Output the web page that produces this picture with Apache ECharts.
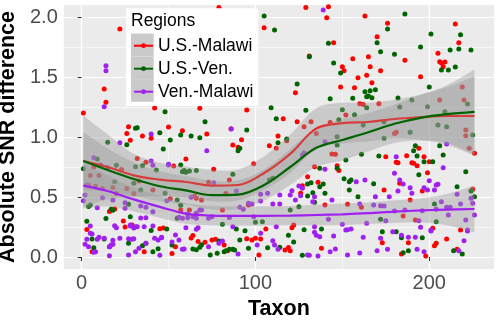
<!DOCTYPE html>
<html>
<head>
<meta charset="utf-8">
<script src="https://cdn.jsdelivr.net/npm/echarts@6/dist/echarts.min.js"></script>
<style>
  html, body { margin: 0; padding: 0; background: #ffffff; }
  #chart { width: 500px; height: 320px; }
</style>
</head>
<body>
<div id="chart"></div>
<script>
// ---------- data ----------
const regions = ['U.S.-Malawi', 'U.S.-Ven.', 'Ven.-Malawi'];
const regionColors = ['#FF0000', '#006400', '#A020F0'];

const taxonTicks = [0, 100, 200];
const taxonMinor = [50, 150];
const snrTicks = [0, 0.5, 1.0, 1.5, 2.0];
const snrMinor = [0.25, 0.75, 1.25, 1.75];

// scatter points [taxon, absolute SNR difference]
const usMalawi = [
  [1,1.20],[3,0.23],[4,0.60],[5,0.68],[6,0.044],[7,0.75],[8,0.59],[10,0.68],[12,0.57],[13,1.40],[14,1.29],
  [16,0.38],[18,0.58],[19,0.40],[20,0.53],[22,1.90],[23,0.73],[24,0.30],[25,0.25],[26,0.57],[26,1.03],[27,1.086],
  [28,0.972],[29,0.267],[30,0.53],[32,0.82],[33,0.633],[35,1.008],[36,0.044],[37,0.79],[40,0.99],[41,0.558],
  [42,1.242],[45,0.236],[47,0.242],[50,1.083],[51,0.486],[52,0.03],[53,0.758],[54,0.086],[57,0.392],[58,1.053],
  [60,0.817],[62,0.392],[63,0.158],[64,0.18],[65,0.508],[66,0.489],[67,0.13],[68,1.239],[69,0.475],[71,0.122],
  [72,1.025],[73,0.622],[75,0.142],[76,0.731],[77,0.147],[79,2.08],[81,0.392],[82,0.10],[83,0.53],[84,0.053],
  [85,0.642],[86,1.069],[87,0.933],[90,0.914],[92,0.978],[95,1.225],[95,0.153],[96,0.433],[98,0.142],[99,0.778],
  [100,0.156],[103,0.15],[102,0.017],[105,1.911],[106,0.233],[108,0.928],[112,0.906],[113,1.008],[116,1.153],
  [117,0.058],[118,0.969],[119,0.08],[120,0.053],[121,0.244],[122,0.267],[123,1.369],[124,1.128],[126,0.531],
  [127,0.594],[128,1.086],[129,2.08],[130,0.669],[131,1.675],[132,1.128],[134,0.753],[135,1.03],[136,0.622],
  [138,0.072],[140,0.433],[141,1.994],[142,2.086],[143,1.12],[144,0.858],[145,1.786],[146,0.856],[147,0.761],
  [148,0.72],[149,1.417],[150,1.586],[151,1.553],[152,1.183],[153,0.44],[156,1.653],[157,1.41],[159,1.494],
  [160,1.278],[161,0.414],[162,1.27],[163,2.008],[164,1.514],[165,1.669],[166,1.586],[167,1.453],[170,1.836],
  [171,1.278],[172,1.553],[173,0.119],[174,0.558],[175,0.836],[176,1.947],[180,1.03],[181,1.039],[181,0.789],
  [182,0.786],[183,0.614],[184,0.025],[185,0.342],[186,1.639],[187,0.844],[188,0.119],[189,0.475],[190,0.786],
  [191,0.781],[192,0.308],[193,0.761],[194,0.906],[195,1.503],[196,0.55],[197,0.836],[198,0.008],[199,0.703],
  [200,0.794],[202,0.24],[203,0.094],[204,0.114],[205,1.697],[206,1.628],[206,1.308],[207,1.617],[208,1.586],
  [209,1.625],[210,0.15],[215,1.942],[216,0.064],[217,1.786],[218,0.225],[219,1.417],[220,1.308],[221,1.058],
  [221,1.011],[223,0.906],[225,0.564],[226,0.864]
];
const usVen = [
  [1,0.736],[3,0.297],[4,0.42],[5,0.433],[6,0.15],[7,0.078],[9,0.817],[13,0.15],[14,0.32],[15,0.956],[16,0.086],
  [17,0.397],[18,0.39],[19,0.628],[20,0.764],[26,0.936],[27,0.114],[27,0.439],[28,0.336],[30,0.614],[31,1.072],
  [31,0.753],[32,1.078],[34,0.558],[35,0.761],[35,0.094],[37,0.114],[40,0.22],[41,0.044],[43,0.725],[44,0.069],
  [45,1.036],[47,0.90],[48,1.211],[48,0.531],[49,0.233],[51,0.975],[52,0.10],[55,0.475],[55,0.322],[57,0.767],
  [57,0.431],[57,1.017],[58,0.711],[59,0.72],[60,0.706],[62,0.717],[63,1.008],[64,0.067],[66,0.061],[66,0.72],
  [68,0.994],[68,0.081],[69,0.103],[71,1.128],[74,0.017],[78,0.031],[79,0.133],[81,0.272],[82,0.044],[83,0.053],
  [85,0.064],[87,0.064],[87,0.689],[88,0.058],[89,0.233],[90,0.886],[91,0.906],[91,0.142],[94,0.219],[95,1.058],
  [96,0.072],[100,0.289],[104,0.294],[105,2.008],[107,0.078],[108,0.642],[109,1.244],[110,0.656],[111,1.892],
  [112,1.153],[113,0.953],[114,0.081],[118,0.983],[119,0.181],[120,0.392],[122,0.125],[124,1.442],[125,0.419],
  [127,0.014],[128,0.228],[129,1.222],[130,0.608],[130,0.508],[131,1.669],[132,0.619],[133,0.536],[134,0.456],
  [137,0.739],[137,0.586],[138,0.234],[139,0.608],[140,0.531],[142,1.781],[143,1.319],[145,1.617],[147,0.933],
  [147,0.739],[147,1.003],[148,1.144],[149,1.533],[150,1.228],[151,0.653],[152,0.808],[154,0.628],[154,0.558],
  [155,0.642],[156,1.322],[157,1.186],[159,0.503],[161,0.856],[162,1.10],[163,1.378],[164,1.336],[164,1.244],
  [165,1.342],[166,1.386],[167,1.328],[168,0.61],[169,1.394],[170,1.786],[171,0.842],[172,0.314],[172,1.711],
  [173,0.211],[174,1.128],[174,0.989],[176,1.90],[180,1.69],[181,0.211],[182,1.325],[183,1.25],[184,0.161],
  [185,0.036],[186,2.025],[188,0.053],[189,1.04],[190,1.308],[191,0.886],[192,0.928],[193,0.842],[194,0.686],
  [195,1.75],[196,0.161],[197,0.794],[199,1.253],[200,1.417],[201,1.858],[202,0.794],[203,0.442],[204,0.294],
  [205,1.10],[206,0.928],[207,1.558],[208,0.85],[209,1.211],[210,1.086],[211,1.558],[212,1.725],[214,0.053],
  [215,1.583],[216,0.586],[217,1.733],[218,1.853],[219,0.025],[221,0.711],[222,1.275],[224,1.725],[224,0.55],
  [225,1.017],[226,0.503]
];
const venMalawi = [
  [1,0.469],[2,0.106],[2,0.517],[3,0.60],[3,0.147],[4,0.086],[5,0.197],[5,0.258],[6,0.192],[7,0.828],[7,0.04],
  [8,0.044],[9,0.147],[9,0.411],[10,0.164],[11,0.767],[12,0.494],[13,0.156],[13,1.253],[14,1.594],[14,1.553],
  [15,0.744],[16,0.01],[16,0.086],[17,0.10],[18,0.106],[18,0.475],[18,0.14],[19,0.261],[20,0.244],[22,0.953],
  [22,0.156],[25,0.406],[25,0.453],[27,0.017],[27,0.153],[28,0.267],[28,0.258],[29,0.147],[30,0.153],[30,0.242],
  [31,0.044],[31,0.253],[32,0.253],[33,0.072],[34,0.325],[34,0.425],[36,0.253],[37,0.414],[37,0.328],[37,0.114],
  [40,1.025],[40,0.80],[41,0.764],[41,0.258],[41,0.378],[42,0.156],[44,0.142],[45,0.014],[46,0.161],[46,0.164],
  [49,0.469],[50,0.767],[50,0.772],[52,0.125],[54,0.183],[56,0.142],[56,0.331],[58,0.322],[58,0.064],[59,0.067],
  [60,0.244],[61,0.328],[61,0.358],[63,0.497],[64,0.336],[66,0.322],[66,0.231],[66,0.364],[67,0.244],[68,0.392],
  [69,0.392],[72,0.886],[73,0.322],[73,0.086],[75,0.336],[76,0.619],[79,0.114],[81,0.133],[85,0.33],[86,1.067],
  [87,0.253],[89,0.55],[90,0.026],[91,0.414],[93,0.397],[96,0.447],[98,0.442],[99,0.336],[101,0.10],[103,0.197],
  [103,0.522],[103,0.467],[107,0.531],[110,0.136],[110,0.442],[111,0.10],[112,0.253],[113,0.064],[114,0.517],
  [114,0.442],[120,0.517],[121,0.553],[123,0.475],[125,0.592],[126,0.511],[127,0.572],[127,0.85],[128,0.866],
  [130,0.017],[131,0.014],[133,0.461],[134,0.253],[134,0.503],[134,0.206],[135,0.181],[136,0.008],[137,0.169],
  [139,2.058],[140,0.731],[140,0.961],[142,0.314],[143,0.044],[144,0.475],[145,0.175],[146,0.067],[150,0.272],
  [152,0.225],[153,0.228],[153,0.017],[155,0.233],[158,0.628],[160,0.442],[160,0.034],[162,0.164],[163,0.642],
  [164,0.281],[168,0.433],[169,0.503],[170,0.053],[172,0.156],[172,0.428],[174,0.425],[175,0.303],[176,0.064],
  [177,0.503],[179,0.211],[180,0.383],[180,0.697],[181,0.836],[182,0.55],[183,0.642],[184,0.181],[185,0.608],
  [186,0.392],[188,0.164],[189,0.578],[190,0.531],[192,0.164],[193,0.064],[194,0.303],[195,0.247],[196,0.386],
  [197,0.044],[197,0.578],[199,0.558],[200,0.636],[201,0.225],[201,0.217],[203,0.558],[204,0.397],[204,0.60],
  [205,0.606],[207,0.461],[208,0.744],[210,0.414],[210,0.942],[211,0.35],[212,0.414],[216,0.522],[217,0.053],
  [218,0.442],[220,0.136],[221,0.308],[222,0.217],[222,0.225],[224,0.489],[225,0.447],[226,0.35]
];

// loess fits and their confidence bands, read at these taxa
const fitTaxon = [1, 15, 30, 45, 60, 75, 90, 105, 120, 135, 150, 165, 180, 195, 210, 226];
const fitUsMalawi = [0.80,0.75,0.68,0.645,0.625,0.595,0.60,0.70,0.86,1.07,1.115,1.125,1.15,1.165,1.175,1.175];
const lowUsMalawi = [0.42,0.48,0.50,0.505,0.495,0.465,0.47,0.56,0.70,0.90,0.945,0.965,0.99,0.975,0.935,0.845];
const highUsMalawi = [1.18,1.02,0.86,0.785,0.755,0.725,0.73,0.84,1.02,1.24,1.285,1.285,1.31,1.355,1.415,1.505];
const fitUsVen = [0.80,0.725,0.65,0.59,0.555,0.515,0.52,0.60,0.75,0.91,0.975,1.04,1.11,1.16,1.19,1.21];
const lowUsVen = [0.56,0.545,0.51,0.465,0.435,0.395,0.40,0.47,0.60,0.75,0.805,0.88,0.95,0.97,0.95,0.855];
const highUsVen = [1.04,0.905,0.79,0.715,0.675,0.635,0.64,0.73,0.90,1.07,1.145,1.20,1.27,1.35,1.43,1.565];
const fitVenMalawi = [0.595,0.55,0.48,0.418,0.362,0.345,0.342,0.343,0.345,0.35,0.356,0.365,0.378,0.388,0.395,0.40];
const lowVenMalawi = [0.405,0.42,0.38,0.328,0.277,0.265,0.262,0.263,0.265,0.265,0.266,0.275,0.283,0.288,0.265,0.205];
const highVenMalawi = [0.785,0.68,0.58,0.508,0.447,0.425,0.422,0.423,0.425,0.435,0.446,0.455,0.473,0.488,0.525,0.595];

// ---------- build ----------
const FONT = '"Liberation Sans", Arial, sans-serif';
const pointsAll = [usMalawi, usVen, venMalawi];
const fits = [fitUsMalawi, fitUsVen, fitVenMalawi];
const lows = [lowUsMalawi, lowUsVen, lowVenMalawi];
const highs = [highUsMalawi, highUsVen, highVenMalawi];

const pair = (xs, ys) => xs.map((x, i) => [x, ys[i]]);
const bandFill = 'rgba(153,153,153,0.4)';

const series = [];
// smooth lines first (legend icons come from them)
regions.forEach((name, i) => {
  series.push({
    type: 'line', name, data: pair(fitTaxon, fits[i]), smooth: 0.35,
    symbol: 'circle', showSymbol: false, z: 4 + i * 2,
    lineStyle: { color: regionColors[i], width: 2.2 },
    itemStyle: { color: regionColors[i] },
    silent: true
  });
});
// scatter points
regions.forEach((name, i) => {
  series.push({
    type: 'scatter', name, data: pointsAll[i], symbol: 'circle', symbolSize: 5,
    itemStyle: { color: regionColors[i], opacity: 1 }, z: 2, silent: true
  });
});
// confidence bands (one polygon per region, vertices placed through the axes)
regions.forEach((name, i) => {
  series.push({
    type: 'custom', name: 'band-' + i, coordinateSystem: 'cartesian2d', z: 3 + i * 2, silent: true,
    data: fitTaxon.map((x, k) => [x, lows[i][k], highs[i][k]]),
    encode: { x: 0, y: [1, 2] },
    renderItem: (params, api) => {
      if (params.dataIndex !== 0) return null;
      const upper = fitTaxon.map((x, k) => api.coord([x, highs[i][k]]));
      const lower = fitTaxon.map((x, k) => api.coord([x, lows[i][k]])).reverse();
      const pts = [upper[0]].concat(upper, [upper[upper.length - 1], lower[0]], lower, [lower[lower.length - 1]]);
      return { type: 'polygon', shape: { points: pts, smooth: 0.35 }, style: { fill: bandFill } };
    }
  });
});

const hiddenAxis = (vals, w) => ({
  type: 'value', gridIndex: 0, show: true,
  axisLine: { show: false }, axisLabel: { show: false, customValues: vals },
  axisTick: { show: false, customValues: vals },
  splitLine: { show: true, lineStyle: { color: '#ffffff', width: w } }
});

const keyY0 = 33.5, keyStep = 22.8;
const option = {
  animation: false,
  textStyle: { fontFamily: FONT },
  grid: {
    left: 63.8, right: 6, top: 5, bottom: 51,
    containLabel: false, outerBoundsMode: 'none',
    show: true, backgroundColor: '#EBEBEB', borderWidth: 0
  },
  xAxis: [{
    type: 'value', min: -10.25, max: 237.25,
    name: 'Taxon', nameLocation: 'middle', nameGap: 23,
    nameTextStyle: { fontSize: 21.5, fontWeight: 'bold', color: '#000', fontFamily: FONT },
    axisLine: { show: false },
    axisTick: { show: true, customValues: taxonTicks, length: 4, lineStyle: { color: '#333333', width: 1 } },
    axisLabel: { customValues: taxonTicks, color: '#4D4D4D', fontSize: 20, margin: 4, fontFamily: FONT },
    splitLine: { show: true, lineStyle: { color: '#ffffff', width: 1.2 } }
  }, Object.assign(hiddenAxis(taxonMinor, 0.6), { min: -10.25, max: 237.25 })],
  yAxis: [{
    type: 'value', min: -0.1, max: 2.1,
    name: 'Absolute SNR difference', nameLocation: 'middle', nameGap: 33,
    nameTextStyle: { fontSize: 21.5, fontWeight: 'bold', color: '#000', fontFamily: FONT },
    axisLine: { show: false },
    axisTick: { show: true, customValues: snrTicks, length: 4, lineStyle: { color: '#333333', width: 1 } },
    axisLabel: { customValues: snrTicks, color: '#4D4D4D', fontSize: 20, margin: 6, fontFamily: FONT,
                 formatter: v => Number(v).toFixed(1) },
    splitLine: { show: true, lineStyle: { color: '#ffffff', width: 1.2 } }
  }, Object.assign(hiddenAxis(snrMinor, 0.6), { min: -0.1, max: 2.1 })],
  title: {
    text: 'Regions', left: 131, top: 11.5, padding: 0, z: 20,
    textStyle: { fontSize: 17.5, fontWeight: 'normal', color: '#000', fontFamily: FONT, lineHeight: 20 }
  },
  legend: {
    data: regions, orient: 'vertical', left: 126, top: 8.3,
    padding: [25.9, 0, 0, 7], itemGap: 0, itemWidth: 19, itemHeight: 6, z: 15,
    selectedMode: false,
    textStyle: { fontSize: 17.5, color: '#000', fontFamily: FONT, lineHeight: 23 }
  },
  graphic: [
    { type: 'rect', z: 10, silent: true, shape: { x: 126, y: 8.3, width: 132.3, height: 97.7 }, style: { fill: '#ffffff' } },
    { type: 'rect', z: 12, silent: true, shape: { x: 131, y: keyY0, width: 22.7, height: 22.7 }, style: { fill: '#CACACA' } },
    { type: 'rect', z: 12, silent: true, shape: { x: 131, y: keyY0 + keyStep, width: 22.7, height: 22.7 }, style: { fill: '#CACACA' } },
    { type: 'rect', z: 12, silent: true, shape: { x: 131, y: keyY0 + 2 * keyStep, width: 22.7, height: 22.7 }, style: { fill: '#CACACA' } }
  ],
  series
};

const chart = echarts.init(document.getElementById('chart'), null, { renderer: 'canvas' });
chart.setOption(option);
</script>
</body>
</html>
